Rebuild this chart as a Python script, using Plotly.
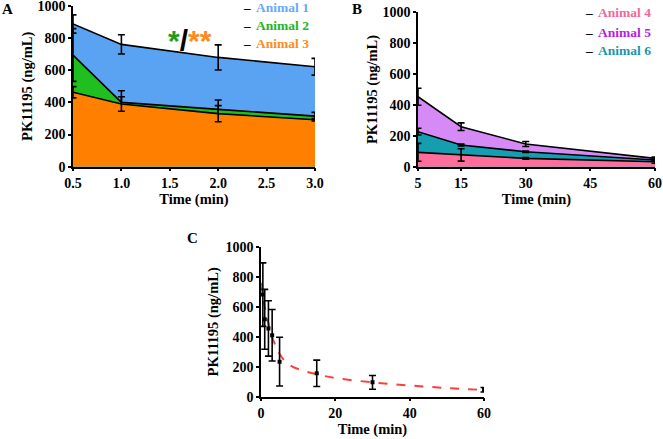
import plotly.graph_objects as go

W, H = 663, 439

# ---------------- Data ----------------
# Panel A (0.5-3 min)
time_a = [0.5, 1.0, 2.0, 3.0]
a1_mean = [888, 761, 680, 622]
a1_err = [57, 60, 78, 52]
a2_mean = [695, 400, 357, 315]
a2_err = [164, 73, 58, 23]
a3_mean = [463, 390, 330, 292]
a3_err = [35, 45, 50, 8]

# Panel B (5-60 min)
time_b = [5, 15, 30, 60]
a5_mean = [453, 259, 147, 54]
a5_err = [55, 25, 16, 8]
a6_mean = [227, 140, 97, 43]
a6_err = [22, 6, 5, 8]
a4_mean = [93, 76, 54, 32]
a4_err = [58, 40, 5, 10]

# Panel C (pooled)
time_c = [0.5, 1, 2, 3, 5, 15, 30, 60]
c_mean = [682, 517, 456, 410, 234, 156, 96, 46]
c_err = [212, 200, 185, 172, 163, 88, 46, 15]
fit_t = [0, 1, 2, 3, 4, 5, 7, 10, 15, 20, 30, 40, 50, 60]
fit_y = [760, 600, 490, 400, 335, 285, 225, 185, 150, 125, 96, 75, 58, 45]

legend_a = ["Animal 1", "Animal 2", "Animal 3"]
legend_b = ["Animal 4", "Animal 5", "Animal 6"]

# ---------------- Styles ----------------
FONT = "'Liberation Serif', 'Times New Roman', Times, serif"
SANS = "'Liberation Sans', Arial, sans-serif"
BLUE, GREEN, ORANGE = "#5aa2f2", "#1fbf1f", "#ff8000"
PINK, PURPLE, TEAL = "#ff6e9a", "#d68af5", "#149eb0"
TXT_A = ["#6aaaf5", "#22b522", "#ff8a1a"]
TXT_B = ["#f0689a", "#b422e0", "#2096ac"]


def px(x0, x1):
    return [x0 / W, x1 / W]


def py(top, bottom):
    return [1 - bottom / H, 1 - top / H]


fig = go.Figure()


def area(x, y, e, fill, xa, ya):
    fig.add_trace(go.Scatter(
        x=x, y=y, mode="lines", fill="tozeroy", fillcolor=fill,
        line=dict(color="black", width=1.6),
        error_y=dict(type="data", array=e, visible=True, color="black",
                     thickness=1.6, width=3.5),
        xaxis=xa, yaxis=ya, showlegend=False, hoverinfo="skip"))


area(time_a, a1_mean, a1_err, BLUE, "x", "y")
area(time_a, a2_mean, a2_err, GREEN, "x", "y")
area(time_a, a3_mean, a3_err, ORANGE, "x", "y")

area(time_b, a5_mean, a5_err, PURPLE, "x2", "y2")
area(time_b, a6_mean, a6_err, TEAL, "x2", "y2")
area(time_b, a4_mean, a4_err, PINK, "x2", "y2")

fig.add_trace(go.Scatter(
    x=fit_t, y=fit_y, mode="lines", line=dict(color="#ff3c3c", width=2, dash="dash", shape="spline"),
    xaxis="x3", yaxis="y3", showlegend=False, hoverinfo="skip"))
fig.add_trace(go.Scatter(
    x=time_c, y=c_mean, mode="markers",
    marker=dict(color="black", size=4, symbol="square"),
    error_y=dict(type="data", array=c_err, visible=True, color="black",
                 thickness=1.6, width=3.5),
    xaxis="x3", yaxis="y3", showlegend=False, hoverinfo="skip"))

tickfont = dict(family=FONT, size=14, color="black", weight="bold")
titlefont = dict(family=FONT, size=14.5, color="black", weight="bold")
axis_common = dict(showline=True, linecolor="black", linewidth=1.5, ticks="outside",
                   ticklen=3, tickwidth=1.5, tickcolor="black", showgrid=False,
                   zeroline=False, tickfont=tickfont, title_font=titlefont,
                   automargin=False, ticklabeloverflow="allow")

fig.update_layout(
    width=W, height=H, margin=dict(l=0, r=0, t=0, b=0),
    paper_bgcolor="white", plot_bgcolor="white",
    xaxis=dict(domain=px(73, 315), range=[0.5, 3.0], tickvals=[0.5, 1, 1.5, 2, 2.5, 3],
               tickformat=".1f", anchor="y", title_text="Time (min)", title_standoff=4,
               **axis_common),
    yaxis=dict(domain=py(6, 166.7), range=[0, 1000], tickvals=[0, 200, 400, 600, 800, 1000],
               anchor="x", title_text="PK11195 (ng/mL)", title_standoff=1, **axis_common),
    xaxis2=dict(domain=px(418, 655), range=[5, 60], tickvals=[5, 15, 30, 45, 60],
                anchor="y2", title_text="Time (min)", title_standoff=4, **axis_common),
    yaxis2=dict(domain=py(12.3, 166.7), range=[0, 1000], tickvals=[0, 200, 400, 600, 800, 1000],
                anchor="x2", title_text="PK11195 (ng/mL)", title_standoff=1, **axis_common),
    xaxis3=dict(domain=px(261, 484), range=[0, 60], tickvals=[0, 20, 40, 60],
                anchor="y3", title_text="Time (min)", title_standoff=4, **axis_common),
    yaxis3=dict(domain=py(247, 396.7), range=[0, 1000], tickvals=[0, 200, 400, 600, 800, 1000],
                anchor="x3", title_text="PK11195 (ng/mL)", title_standoff=3, **axis_common),
)

ann = []


def label(x, y, text, size=14, color="black", anchor="left", family=FONT):
    ann.append(dict(x=x / W, y=1 - y / H, xref="paper", yref="paper", text=text,
                    showarrow=False, xanchor=anchor, yanchor="middle",
                    font=dict(family=family, size=size, color=color, weight="bold")))


label(0, 9, "A", 15)
label(350, 9, "B", 15)
label(185, 238, "C", 15)

rows_a = [8, 25.5, 43.5]
for name, col, yy in zip(legend_a, TXT_A, rows_a):
    label(241, yy, "–", 13.5)
    label(254, yy, name, 13.5, col)
rows_b = [13, 32, 50]
for name, col, yy in zip(legend_b, TXT_B, rows_b):
    label(583, yy, "–", 13.5)
    label(596, yy, name, 13.5, col)

label(190, 40, "<span style='color:#1e9e1e'>*</span>/<span style='color:#ff8a1a'>**</span>",
      30, "black", "center", SANS)

fig.update_layout(annotations=ann)
fig.write_html("out.html", config={"displayModeBar": False},
               post_script="document.body.style.margin='0';document.body.style.overflow='hidden';")
